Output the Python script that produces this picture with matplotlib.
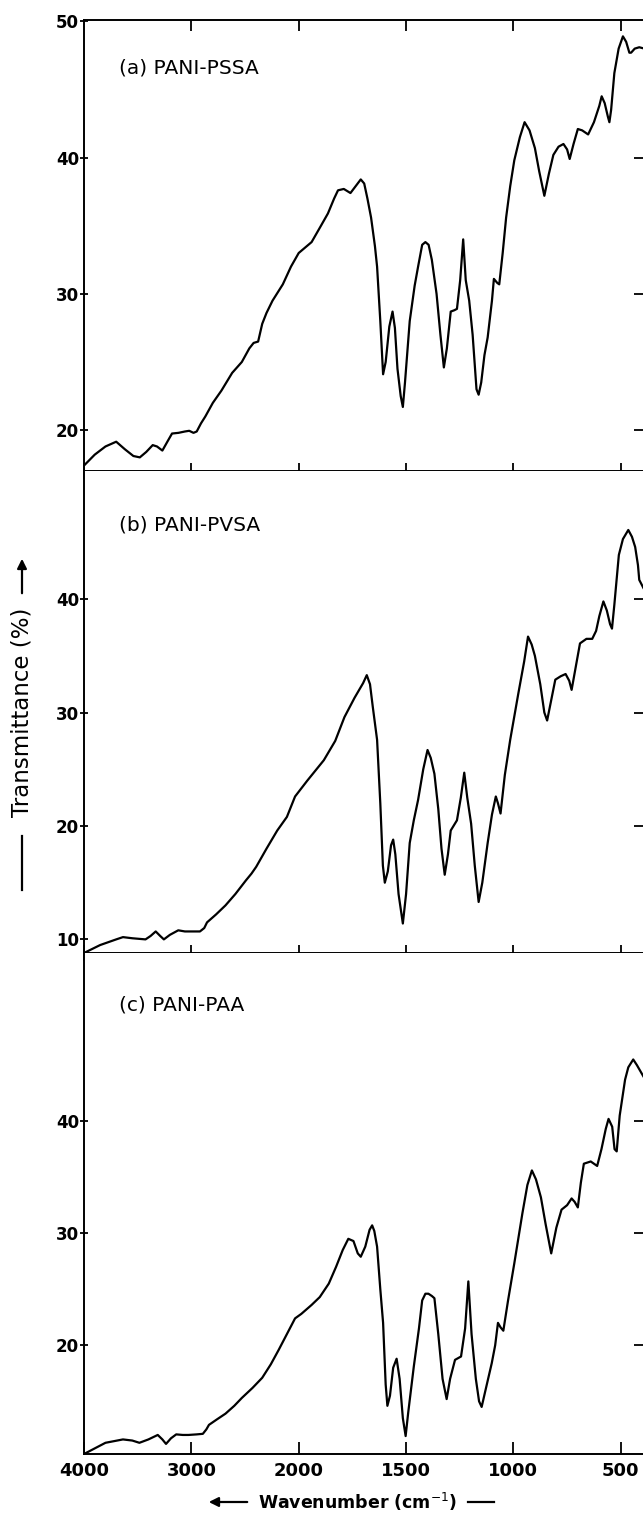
import numpy as np
import matplotlib
matplotlib.use("Agg")
import matplotlib.pyplot as plt
from matplotlib.patches import FancyArrowPatch
from matplotlib.lines import Line2D

# IR spectra of PANI complexes
wn_a = [4000, 3900, 3800, 3700, 3620, 3540, 3480, 3420, 3360, 3320, 3270, 3220, 3180, 3120,
        3060, 3020, 2980, 2950, 2910, 2870, 2800, 2720, 2620, 2530, 2460, 2420, 2378, 2340,
        2300, 2244, 2148, 2072, 2000, 1940, 1900, 1864, 1835, 1817, 1790, 1759, 1735, 1711,
        1695, 1680, 1663, 1645, 1635, 1620, 1607, 1595, 1578, 1563, 1552, 1540, 1525, 1515,
        1505, 1483, 1460, 1444, 1425, 1410, 1395, 1380, 1358, 1340, 1324, 1310, 1292, 1275,
        1263, 1248, 1234, 1222, 1206, 1190, 1172, 1162, 1150, 1135, 1120, 1100, 1091, 1075,
        1066, 1050, 1034, 1015, 996, 970, 948, 925, 900, 880, 856, 835, 814, 790, 767, 750,
        738, 720, 700, 680, 652, 625, 600, 589, 575, 560, 553, 545, 530, 510, 490, 475, 460,
        452, 435, 414, 390]
tr_a = [17.4, 18.2, 18.8, 19.15, 18.6, 18.1, 18.0, 18.4, 18.9, 18.8, 18.5, 19.2, 19.75, 19.8,
        19.9, 19.95, 19.8, 19.9, 20.5, 21.0, 22.0, 22.9, 24.2, 25.0, 26.0, 26.4, 26.5, 27.8,
        28.6, 29.5, 30.7, 32.0, 33.0, 33.8, 34.9, 35.9, 37.0, 37.6, 37.7, 37.4, 37.9, 38.4,
        38.1, 37.0, 35.6, 33.5, 32.0, 28.0, 24.1, 25.0, 27.6, 28.7, 27.5, 24.5, 22.5, 21.7,
        23.5, 28.0, 30.6, 32.0, 33.6, 33.8, 33.6, 32.5, 30.0, 27.0, 24.6, 26.0, 28.7, 28.8,
        28.9, 31.0, 34.0, 31.0, 29.5, 27.0, 23.0, 22.6, 23.5, 25.5, 26.8, 29.5, 31.1, 30.8,
        30.7, 33.0, 35.6, 37.9, 39.8, 41.5, 42.6, 42.0, 40.7, 39.0, 37.2, 38.8, 40.2, 40.8,
        41.0, 40.6, 39.9, 41.0, 42.1, 42.0, 41.7, 42.6, 43.8, 44.5, 44.0, 43.0, 42.6, 43.5,
        46.2, 48.0, 48.9, 48.5, 47.7, 47.7, 48.0, 48.1, 48.0]

wn_b = [4000, 3850, 3700, 3637, 3550, 3427, 3380, 3332, 3290, 3256, 3200, 3122, 3060, 2994,
        2920, 2880, 2854, 2770, 2682, 2590, 2492, 2440, 2396, 2300, 2200, 2110, 2034, 1960,
        1883, 1830, 1787, 1740, 1700, 1683, 1668, 1655, 1635, 1620, 1608, 1599, 1585, 1570,
        1560, 1550, 1535, 1515, 1500, 1483, 1464, 1444, 1420, 1400, 1385, 1368, 1350, 1335,
        1320, 1305, 1292, 1263, 1245, 1229, 1215, 1197, 1180, 1162, 1145, 1120, 1100, 1082,
        1072, 1060, 1040, 1015, 977, 950, 932, 915, 900, 875, 856, 843, 825, 805, 780, 757,
        740, 729, 710, 690, 660, 633, 615, 600, 581, 565, 550, 541, 530, 509, 490, 465, 448,
        433, 420, 414, 395]
tr_b = [8.8, 9.5, 10.0, 10.2, 10.1, 10.0, 10.3, 10.7, 10.3, 10.0, 10.4, 10.8, 10.7, 10.7,
        10.7, 11.0, 11.5, 12.2, 13.0, 14.0, 15.2, 15.8, 16.4, 18.0, 19.6, 20.8, 22.6, 24.0,
        25.8, 27.5, 29.6, 31.3, 32.6, 33.3, 32.5, 30.5, 27.6, 22.0, 16.5, 15.0, 16.0, 18.3,
        18.8, 17.5, 14.0, 11.4, 14.0, 18.5, 20.5, 22.3, 25.0, 26.7, 26.0, 24.6, 21.5, 18.0,
        15.7, 17.5, 19.6, 20.5, 22.5, 24.7, 22.5, 20.2, 16.5, 13.3, 15.0, 18.5, 21.0, 22.6,
        22.0, 21.1, 24.5, 27.6, 31.7, 34.5, 36.7, 36.0, 35.0, 32.5, 30.0, 29.3, 31.0, 32.9,
        33.2, 33.4, 32.8, 32.0, 34.0, 36.1, 36.5, 36.5, 37.2, 38.5, 39.8, 39.0, 37.8, 37.4,
        39.5, 43.9, 45.3, 46.1, 45.5, 44.6, 43.0, 41.7, 41.0]

wn_c = [4000, 3900, 3800, 3637, 3550, 3484, 3400, 3313, 3270, 3236, 3190, 3141, 3080, 3027,
        2950, 2893, 2860, 2836, 2760, 2682, 2600, 2530, 2430, 2340, 2260, 2186, 2110, 2034,
        1988, 1940, 1902, 1860, 1826, 1795, 1769, 1745, 1725, 1711, 1690, 1670, 1658, 1648,
        1635, 1620, 1607, 1595, 1587, 1575, 1560, 1544, 1530, 1515, 1502, 1490, 1464, 1440,
        1425, 1410, 1396, 1380, 1368, 1350, 1330, 1311, 1295, 1272, 1244, 1225, 1210, 1195,
        1175, 1160, 1148, 1130, 1101, 1085, 1072, 1060, 1047, 1025, 996, 958, 935, 914, 895,
        872, 850, 824, 800, 776, 750, 729, 715, 700, 686, 672, 640, 610, 590, 570, 557, 540,
        529, 519, 505, 480, 465, 442, 425, 404, 395]
tr_c = [10.3, 10.8, 11.3, 11.6, 11.5, 11.3, 11.6, 12.0, 11.6, 11.2, 11.7, 12.05, 12.0, 12.0,
        12.05, 12.1, 12.5, 12.9, 13.4, 13.9, 14.6, 15.3, 16.2, 17.1, 18.3, 19.6, 21.0, 22.4,
        22.8, 23.6, 24.3, 25.5, 27.0, 28.5, 29.5, 29.3, 28.2, 27.9, 28.8, 30.3, 30.7, 30.2,
        28.8, 25.0, 22.0, 16.5, 14.6, 15.5, 18.0, 18.8, 17.0, 13.5, 11.9, 14.0, 18.1, 21.5,
        24.0, 24.6, 24.6, 24.4, 24.2, 21.0, 17.0, 15.2, 17.0, 18.7, 19.0, 21.5, 25.7, 21.0,
        17.0, 15.0, 14.5, 16.0, 18.4, 20.0, 22.0, 21.6, 21.3, 24.0, 27.3, 31.8, 34.3, 35.6,
        34.8, 33.2, 30.8, 28.2, 30.5, 32.1, 32.5, 33.1, 32.8, 32.3, 34.5, 36.2, 36.4, 36.0,
        37.5, 39.3, 40.2, 39.5, 37.5, 37.3, 40.5, 43.7, 44.8, 45.5, 45.0, 44.3, 44.0]

labels = ["(a) PANI-PSSA", "(b) PANI-PVSA", "(c) PANI-PAA"]
xticks = [4000, 3000, 2000, 1500, 1000, 500]
xticklabels = ["4000", "3000", "2000", "1500", "1000", "500"]


# spectrometer chart: scale halves above 2000 cm-1
def fwd(w):
    w = np.asarray(w, dtype=float)
    return np.where(w >= 2000, 2000 + (w - 2000) / 2.0, w)


def inv(u):
    u = np.asarray(u, dtype=float)
    return np.where(u >= 2000, 2000 + (u - 2000) * 2.0, u)


W, H = 643, 1516
fig = plt.figure(figsize=(W / 100, H / 100), dpi=100)

left = 84 / W
width = 560.4 / W
# (top px, bottom px, ylim, left ticks, right ticks)
panels = [
    (20, 471, (17.0, 50.1), [20, 30, 40, 50], [20, 30, 40]),
    (471, 953, (8.8, 51.3), [10, 20, 30, 40], [20, 30, 40]),
    (953, 1454, (10.3, 55.0), [20, 30, 40], [20, 30, 40]),
]
series = [(wn_a, tr_a), (wn_b, tr_b), (wn_c, tr_c)]
label_y = [68, 525, 1005]

for i, ((top, bot, ylim, lt, rt), (x, y)) in enumerate(zip(panels, series)):
    ax = fig.add_axes([left, 1 - bot / H, width, (bot - top) / H])
    ax.set_xscale("function", functions=(fwd, inv))
    ax.plot(x, y, color="black", lw=1.6)
    ax.set_xlim(4000, 390)
    ax.set_ylim(*ylim)
    for s in ax.spines.values():
        s.set_linewidth(1.4)
    if i > 0:
        ax.spines["top"].set_visible(False)

    ax.set_yticks(lt)
    ax.set_yticklabels([str(v) for v in lt], fontsize=12, fontweight="bold")
    ax.tick_params(axis="y", direction="inout", length=6, width=1.3, pad=0.5)

    ax.set_xticks(xticks)
    if i == 2:
        ax.set_xticklabels(xticklabels, fontsize=13, fontweight="bold")
        ax.tick_params(axis="x", direction="in", length=9, width=1.3, pad=6)
    else:
        ax.set_xticklabels([])
        ax.tick_params(axis="x", direction="inout", length=11, width=1.3)

    # ticks on the right edge
    axr = ax.twinx()
    axr.set_ylim(*ylim)
    axr.set_yticks(rt)
    axr.tick_params(axis="y", direction="in", length=7, width=1.3, labelright=False)
    for s in axr.spines.values():
        s.set_visible(False)

    if i == 0:
        axt = ax.twiny()
        axt.set_xscale("function", functions=(fwd, inv))
        axt.set_xlim(4000, 390)
        axt.set_xticks(xticks[1:])
        axt.tick_params(axis="x", direction="in", length=8, width=1.3, labeltop=False)
        for s in axt.spines.values():
            s.set_visible(False)

    fig.text(119 / W, 1 - label_y[i] / H, labels[i], fontsize=14.5, ha="left", va="center")

# y axis label with arrow
fig.text(22 / W, 1 - 712 / H, "Transmittance (%)", rotation=90, fontsize=16.5,
         ha="center", va="center")
fig.add_artist(FancyArrowPatch((22 / W, 1 - 596 / H), (22 / W, 1 - 556 / H),
                               transform=fig.transFigure, arrowstyle="-|>",
                               mutation_scale=14, lw=1.6, color="black"))
fig.add_artist(Line2D([22 / W, 22 / W], [1 - 836 / H, 1 - 890 / H],
                      transform=fig.transFigure, lw=1.6, color="black"))

# x axis label with arrow
fig.text(358 / W, 1 - 1502 / H, "Wavenumber (cm$^{-1}$)", fontsize=12.5,
         fontweight="bold", ha="center", va="center")
fig.add_artist(FancyArrowPatch((250 / W, 1 - 1502 / H), (206 / W, 1 - 1502 / H),
                               transform=fig.transFigure, arrowstyle="-|>",
                               mutation_scale=14, lw=1.6, color="black"))
fig.add_artist(Line2D([468 / W, 494 / W], [1 - 1502 / H, 1 - 1502 / H],
                      transform=fig.transFigure, lw=1.6, color="black"))

fig.savefig("out.png", dpi=100)
